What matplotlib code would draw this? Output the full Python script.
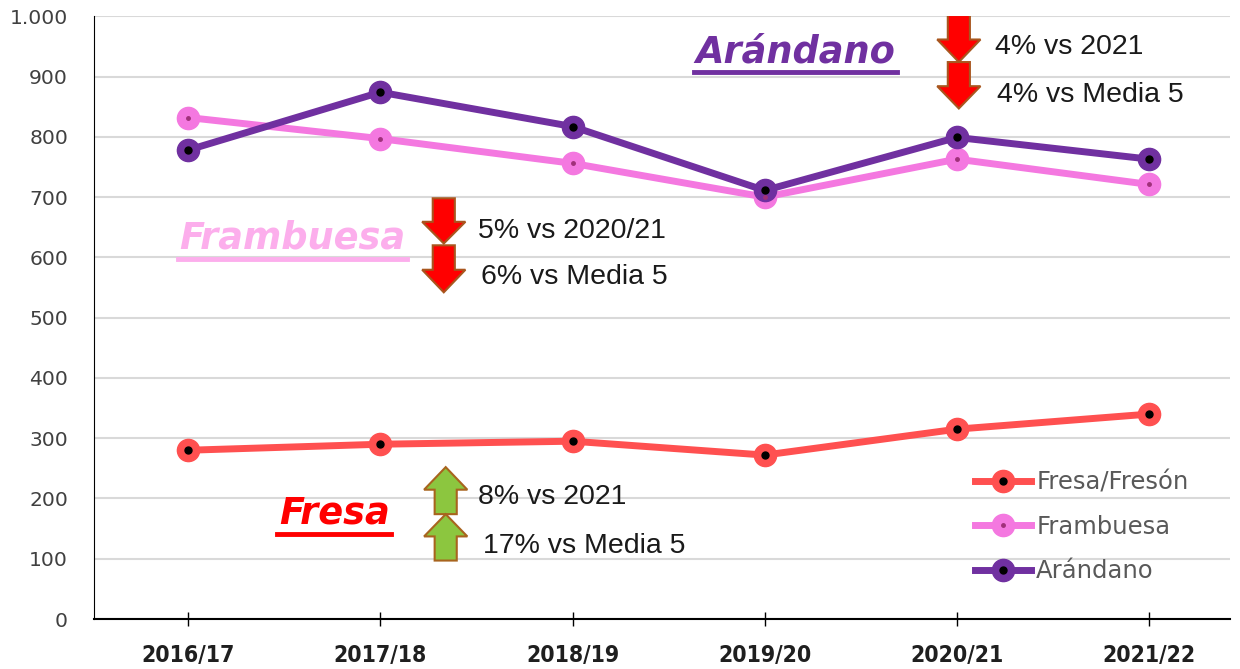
import matplotlib.pyplot as plt
from matplotlib.patches import FancyArrow
from matplotlib.legend_handler import HandlerTuple
from matplotlib.ticker import FuncFormatter

campaigns = ["2016/17", "2017/18", "2018/19", "2019/20", "2020/21", "2021/22"]
fresa = [280, 290, 295, 272, 315, 340]
frambuesa = [832, 797, 756, 700, 763, 721]
arandano = [778, 874, 817, 711, 799, 763]

series_names = ["Fresa/Fresón", "Frambuesa", "Arándano"]
series_colors = ["#ff5050", "#f478e0", "#7030a0"]
dot_colors = ["black", "#a0307a", "black"]
dot_sizes = [5, 2.5, 5]

fig = plt.figure(figsize=(12.4, 6.69), dpi=100)
ax = fig.add_axes([0.0758, 0.0747, 0.916, 0.901])

x = list(range(len(campaigns)))
handles = []
for vals, name, col, dc, ds in zip([fresa, frambuesa, arandano], series_names,
                                   series_colors, dot_colors, dot_sizes):
    ln, = ax.plot(x, vals, color=col, lw=5, marker="o", ms=16, mfc=col,
                  mec=col, zorder=3)
    dots, = ax.plot(x, vals, ls="none", marker="o", ms=ds, color=dc, zorder=4)
    handles.append((ln, dots))

ax.set_xlim(-0.49, 5.42)
ax.set_ylim(0, 1000)
ax.set_yticks(range(0, 1001, 100))
ax.yaxis.set_major_formatter(FuncFormatter(lambda v, p: f"{int(v):,}".replace(",", ".")))
ax.set_xticks(x)
ax.set_xticklabels(campaigns, family=["DejaVu Sans"], fontstretch="condensed",
                   fontsize=16.5, fontweight="bold", color="#1f1f1f")
ax.tick_params(axis="y", length=0, labelsize=14.6, labelcolor="#404040", pad=18.7)
ax.tick_params(axis="x", direction="inout", length=10, width=1, pad=13)
ax.grid(axis="y", color="#d9d9d9", lw=1.5)
ax.set_axisbelow(True)
for s in ["top", "right"]:
    ax.spines[s].set_visible(False)
ax.spines["left"].set_color("black")
ax.spines["bottom"].set_linewidth(1.5)

# arrows
red_fc, red_ec = "#ff0000", "#a8561e"
green_fc, green_ec = "#8cc63f", "#a8641e"


def arrow(x0, y0, dy, fc, ec):
    ax.add_patch(FancyArrow(x0, y0, 0, dy, width=0.115, head_width=0.225,
                            head_length=abs(dy) * 0.48, length_includes_head=True,
                            fc=fc, ec=ec, lw=1.5, zorder=5))


arrow(4.01, 1002, -78, red_fc, red_ec)
arrow(4.01, 924, -77, red_fc, red_ec)
arrow(1.33, 698, -75, red_fc, red_ec)
arrow(1.33, 620, -78, red_fc, red_ec)
arrow(1.34, 174, 78, green_fc, green_ec)
arrow(1.34, 97, 77, green_fc, green_ec)

txt_kw = dict(fontsize=20.5, color="#1a1a1a", va="center", ha="left",
              family=["Liberation Sans", "DejaVu Sans"])
ax.text(4.2, 949, "4% vs 2021", **txt_kw)
ax.text(4.21, 870, "4% vs Media 5", **txt_kw)
ax.text(1.51, 644, "5% vs 2020/21", **txt_kw)
ax.text(1.525, 568, "6% vs Media 5", **txt_kw)
ax.text(1.51, 202, "8% vs 2021", **txt_kw)
ax.text(1.535, 121, "17% vs Media 5", **txt_kw)

# big product labels with underline
big = []
for xx, yy, label, col in [(3.161, 924, "Arándano", "#7030a0"),
                           (0.544, 614, "Frambuesa", "#fcaeec"),
                           (0.76, 158, "Fresa", "#ff0000")]:
    t = ax.text(xx, yy, label, fontsize=26.5, fontweight="bold", style="oblique",
                color=col, ha="center", va="baseline", family="DejaVu Sans")
    big.append((t, col, yy))

fig.canvas.draw()
inv = fig.transFigure.inverted()
for t, col, yy in big:
    bb = t.get_window_extent()
    base = ax.transData.transform((0, yy))[1] - 10
    (x0, y0), (x1, _) = inv.transform([(bb.x0 - 2, base), (bb.x1 + 1, base)])
    fig.add_artist(plt.Line2D([x0, x1], [y0, y0], color=col, lw=3.5))

ax.legend(handles, series_names, handler_map={tuple: HandlerTuple(ndivide=1)},
          loc="upper left", bbox_to_anchor=(0.776, 0.247), frameon=False,
          fontsize=17.5, labelcolor="#595959", handlelength=2.3, handletextpad=0.2,
          labelspacing=0.85, borderaxespad=0, borderpad=0)

fig.savefig("out.png", dpi=100)
